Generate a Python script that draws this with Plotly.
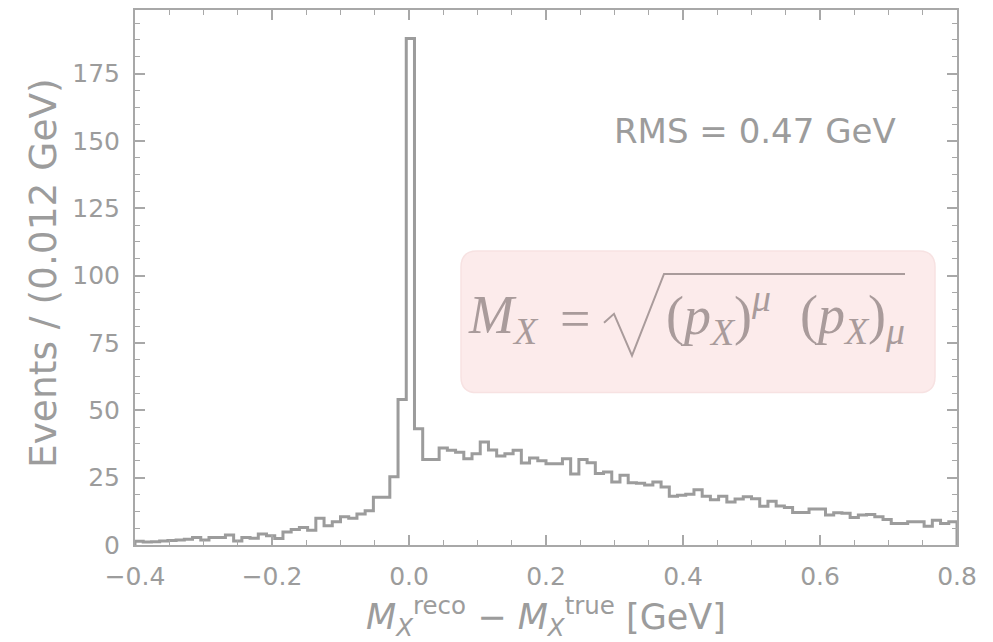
import plotly.graph_objects as go

# ---------------- data ----------------
BIN_START = -0.4
BIN_WIDTH = 0.012
counts = [
    1.4, 1.1, 1.2, 1.5, 1.7, 1.9, 2.1, 2.8, 1.9, 2.8,
    2.8, 3.7, 1.5, 2.8, 2.5, 4.1, 3.4, 2.4, 4.8, 5.8,
    6.5, 5.5, 9.9, 7.1, 8.6, 10.5, 9.9, 11.5, 12.7, 17.7,
    17.7, 25.3, 54.0, 188.0, 43.2, 31.7, 31.7, 36.0, 35.2, 34.4,
    32.0, 33.9, 38.2, 35.3, 33.0, 33.9, 35.2, 30.4, 32.3, 31.3,
    30.2, 30.2, 32.0, 26.4, 31.7, 30.5, 26.5, 27.1, 23.4, 25.9,
    23.1, 22.9, 22.3, 23.4, 21.5, 18.1, 18.5, 18.8, 20.5, 18.1,
    16.8, 18.1, 16.0, 17.1, 17.9, 17.2, 14.4, 16.2, 14.5, 13.9,
    12.1, 12.1, 13.4, 13.4, 11.1, 12.0, 11.8, 10.2, 11.1, 11.3,
    10.5, 9.5, 8.0, 8.0, 8.6, 8.6, 7.0, 9.2, 8.0, 8.6,
]
x_tick_vals = [-0.4, -0.2, 0.0, 0.2, 0.4, 0.6, 0.8]
x_tick_text = ["\u22120.4", "\u22120.2", "0.0", "0.2", "0.4", "0.6", "0.8"]
y_tick_vals = [0, 25, 50, 75, 100, 125, 150, 175]

X_RANGE = [-0.4, 0.8]
Y_RANGE = [0, 198.6]

edges = [BIN_START + BIN_WIDTH * i for i in range(len(counts) + 1)]
xs = [edges[0]] + edges + [edges[-1]]
ys = [0] + counts + [counts[-1], 0]

GRAY = "#9c9c9c"
AX = "#a8a8a8"
FONT = "DejaVu Sans"

# page pixel layout (the page body has an 8px margin)
OFF = 8
PAGE_W, PAGE_H = 993, 642
L, R, T, B = 135, 957, 8, 545   # plot area in page pixels
W, H = PAGE_W - OFF, PAGE_H - OFF


def px2x(p):
    return X_RANGE[0] + (p - L) / (R - L) * (X_RANGE[1] - X_RANGE[0])


def px2y(p):
    return Y_RANGE[0] + (B - p) / (B - T) * (Y_RANGE[1] - Y_RANGE[0])


fig = go.Figure()
fig.add_trace(go.Scatter(
    x=xs, y=ys, mode="lines", line=dict(shape="hv", color=GRAY, width=3),
    showlegend=False, hoverinfo="skip", cliponaxis=False,
))

# rounded pink box
bx0, bx1, by0, by1, rr = 461, 935, 250, 392, 16


def pt(px, py):
    return f"{px2x(px)},{px2y(py)}"


box_path = (
    f"M {pt(bx0 + rr, by0)} L {pt(bx1 - rr, by0)} Q {pt(bx1, by0)} {pt(bx1, by0 + rr)} "
    f"L {pt(bx1, by1 - rr)} Q {pt(bx1, by1)} {pt(bx1 - rr, by1)} "
    f"L {pt(bx0 + rr, by1)} Q {pt(bx0, by1)} {pt(bx0, by1 - rr)} "
    f"L {pt(bx0, by0 + rr)} Q {pt(bx0, by0)} {pt(bx0 + rr, by0)} Z"
)
fig.add_shape(type="path", path=box_path, xref="x", yref="y",
              fillcolor="#fcebeb", line=dict(color="#f7e2e2", width=1.5), layer="below")

FORM_COL = "#a99b9b"
FORM_FONT = "Liberation Serif"
FS = 54

# sqrt sign
sq_path = (
    f"M {pt(604, 322)} L {pt(614, 313)} L {pt(632, 355)} L {pt(664, 273)} L {pt(905, 273)}"
)
fig.add_shape(type="path", path=sq_path, xref="x", yref="y",
              line=dict(color=FORM_COL, width=2))

fig.add_annotation(
    x=px2x(466), y=px2y(318), xref="x", yref="y", xanchor="left", yanchor="middle",
    text="<i>M</i><sub><i>X</i></sub>", showarrow=False,
    font=dict(family=FORM_FONT, size=FS, color=FORM_COL),
)
fig.add_annotation(
    x=px2x(575), y=px2y(318), xref="x", yref="y", xanchor="center", yanchor="middle",
    text="=", showarrow=False,
    font=dict(family=FORM_FONT, size=FS, color=FORM_COL),
)
fig.add_annotation(
    x=px2x(664), y=px2y(314), xref="x", yref="y", xanchor="left", yanchor="middle",
    text="(<i>p</i><sub><i>X</i></sub>)<sup><i>μ</i></sup>", showarrow=False,
    font=dict(family=FORM_FONT, size=FS, color=FORM_COL),
)
fig.add_annotation(
    x=px2x(798), y=px2y(318), xref="x", yref="y", xanchor="left", yanchor="middle",
    text="(<i>p</i><sub><i>X</i></sub>)<sub><i>μ</i></sub>", showarrow=False,
    font=dict(family=FORM_FONT, size=FS, color=FORM_COL),
)

fig.add_annotation(
    x=px2x(898), y=px2y(129), xref="x", yref="y", xanchor="right", yanchor="middle",
    text="RMS = 0.47 GeV", showarrow=False,
    font=dict(family=FONT, size=34, color=GRAY),
)

# y-axis title placed as rotated text
fig.add_annotation(
    x=(43 - L) / (R - L), y=(B - 272) / (B - T), xref="paper", yref="paper",
    xanchor="center", yanchor="middle", textangle=-90,
    text="Events / (0.012 GeV)", showarrow=False,
    font=dict(family=FONT, size=37.5, color=GRAY),
)

axis_common = dict(
    showline=True, linecolor=AX, linewidth=2, mirror="ticks",
    ticks="inside", ticklen=10, tickwidth=1.5, tickcolor=AX,
    showgrid=False, zeroline=False,
    tickfont=dict(family=FONT, size=25, color=GRAY),
)

fig.update_xaxes(
    range=X_RANGE, tickvals=x_tick_vals, ticktext=x_tick_text,
    ticklabelstandoff=8,
    minor=dict(ticks="inside", ticklen=5, tickwidth=1.2, tickcolor=AX, dtick=0.05, tick0=-0.4),
    title=dict(text="<i>M</i><sub><i>X</i></sub><sup>reco</sup> \u2212 <i>M</i><sub><i>X</i></sub><sup>true</sup> [GeV]",
               font=dict(family=FONT, size=35, color=GRAY), standoff=6),
    **axis_common,
)
fig.update_yaxes(
    range=Y_RANGE, tickvals=y_tick_vals, ticklabelstandoff=8,
    minor=dict(ticks="inside", ticklen=5, tickwidth=1.2, tickcolor=AX, dtick=6.25, tick0=0),
    **axis_common,
)

fig.update_layout(
    width=W, height=H,
    margin=dict(l=L - OFF, r=PAGE_W - R, t=T - OFF, b=PAGE_H - B),
    paper_bgcolor="white", plot_bgcolor="white",
    font=dict(family=FONT, color=GRAY),
)

fig.write_html("out.html")
